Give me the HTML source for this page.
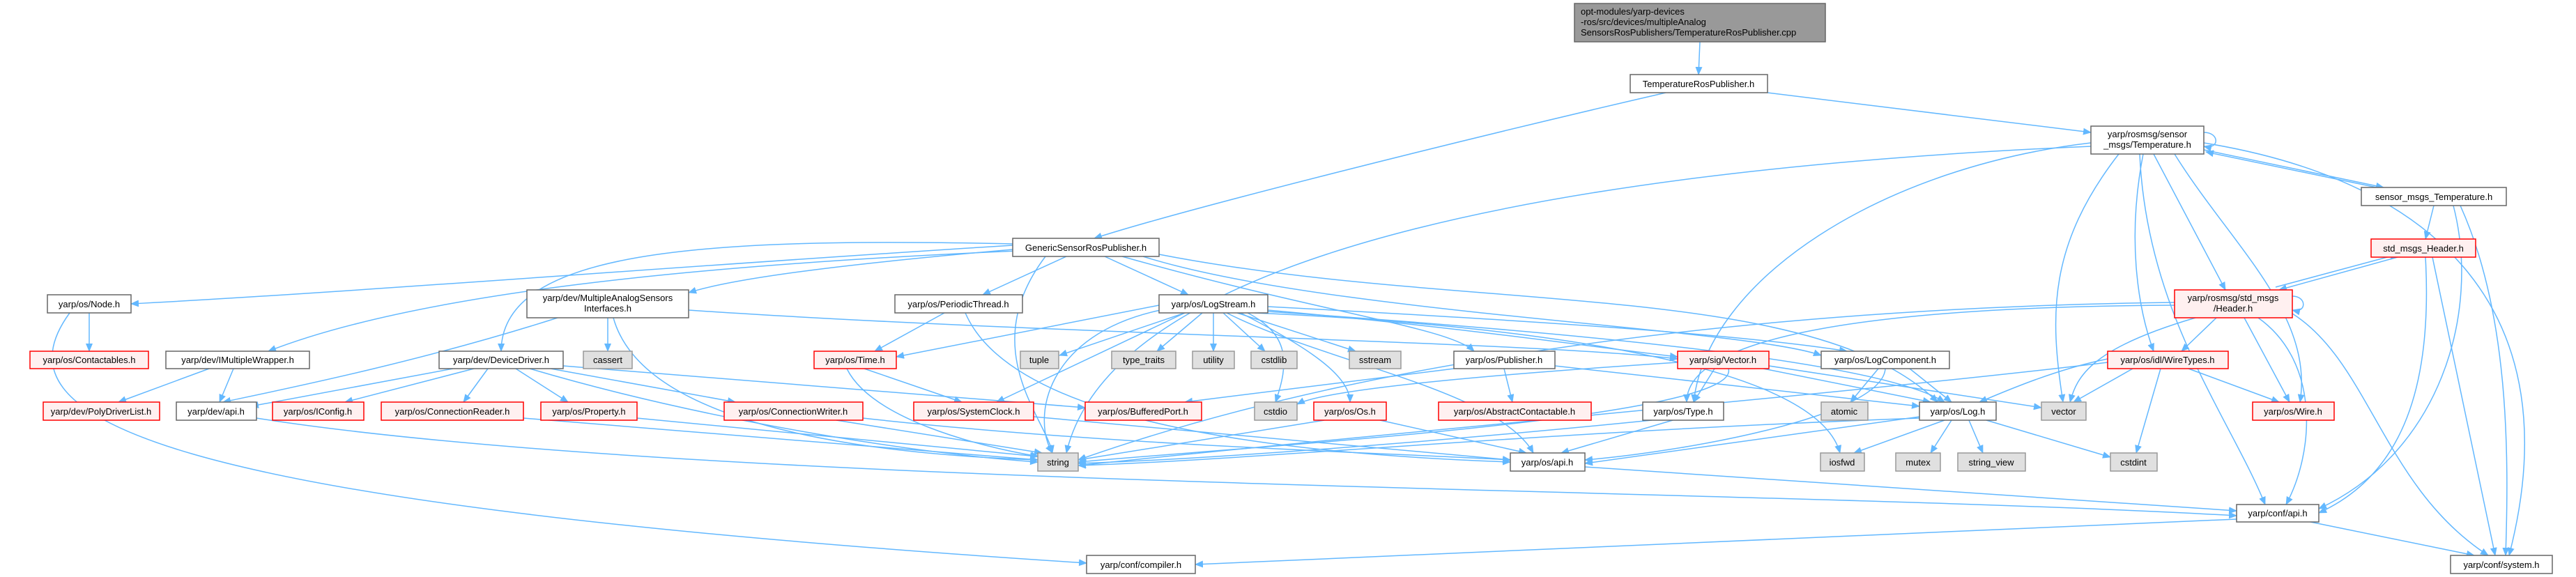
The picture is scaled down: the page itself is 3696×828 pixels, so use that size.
<!DOCTYPE html>
<html><head><meta charset="utf-8"><style>
html,body{margin:0;padding:0;background:#fff}
svg{display:block}
text{font-family:"Liberation Sans",sans-serif;font-size:13px;fill:#000}
.e{fill:none;stroke:#63b8ff;stroke-width:1.5}
.w{fill:#fff;stroke:#666;stroke-width:1.5}
.r{fill:#fff0f0;stroke:#f00;stroke-width:1.5}
.g{fill:#e0e0e0;stroke:#999;stroke-width:1.5}
</style></head><body>
<svg width="3696" height="828" viewBox="0 0 3696 828" xmlns="http://www.w3.org/2000/svg">
<defs><marker id="a" markerWidth="12" markerHeight="10" refX="11" refY="5" orient="auto" markerUnits="userSpaceOnUse"><path d="M0,0 L12,5 L0,10 z" fill="#63b8ff"/></marker></defs>
<g marker-end="url(#a)">
<path class="e" d="M2439,60 L2437,107"/>
<path class="e" d="M2390,133 C2100,200 1700,300 1570,342"/>
<path class="e" d="M2536,133 L3000,190"/>
<path class="e" d="M1453,352 C1000,380 500,420 188,436"/>
<path class="e" d="M1453,358 C1200,380 1050,400 988,420"/>
<path class="e" d="M1460,360 C1000,380 600,420 385,504"/>
<path class="e" d="M1455,350 C1000,340 720,360 719,504"/>
<path class="e" d="M1530,368 L1410,423"/>
<path class="e" d="M1585,368 L1705,423"/>
<path class="e" d="M1610,368 C1900,450 2080,470 2115,504"/>
<path class="e" d="M1640,368 C1900,450 2500,470 2613,510"/>
<path class="e" d="M1663,365 C2100,450 2600,400 2780,577"/>
<path class="e" d="M1500,368 C1400,500 1500,600 1510,650"/>
<path class="e" d="M3162,190 C3185,190 3185,215 3162,210"/>
<path class="e" d="M3162,215 L3420,269"/>
<path class="e" d="M3410,269 L3165,218"/>
<path class="e" d="M3090,221 L3193,416"/>
<path class="e" d="M3075,221 C3050,350 3070,450 3090,504"/>
<path class="e" d="M3120,221 C3200,350 3320,450 3300,577"/>
<path class="e" d="M3040,221 C2940,350 2940,450 2960,577"/>
<path class="e" d="M3070,221 C3080,450 3200,600 3250,724"/>
<path class="e" d="M3162,205 C3500,260 3690,450 3600,797"/>
<path class="e" d="M3000,205 C2700,240 2450,400 2430,577"/>
<path class="e" d="M3000,210 C2300,240 1600,350 1530,650"/>
<path class="e" d="M3492,295 L3480,343"/>
<path class="e" d="M3520,295 C3560,450 3500,650 3327,730"/>
<path class="e" d="M3530,295 C3600,450 3600,650 3595,797"/>
<path class="e" d="M3440,369 L3270,416"/>
<path class="e" d="M3265,412 L3440,365"/>
<path class="e" d="M3480,369 C3490,550 3450,680 3327,736"/>
<path class="e" d="M3490,369 L3580,797"/>
<path class="e" d="M3289,425 C3310,425 3310,450 3289,445"/>
<path class="e" d="M3180,456 L3130,504"/>
<path class="e" d="M3220,456 L3285,577"/>
<path class="e" d="M3150,456 C3000,500 2980,540 2970,577"/>
<path class="e" d="M3240,456 C3330,520 3320,650 3280,724"/>
<path class="e" d="M3289,450 C3400,520 3420,700 3570,797"/>
<path class="e" d="M3120,438 C2700,440 2420,480 2420,577"/>
<path class="e" d="M3120,434 C2600,440 2000,500 1547,660"/>
<path class="e" d="M3024,515 C2950,530 2880,560 2840,577"/>
<path class="e" d="M3060,529 L2975,577"/>
<path class="e" d="M3100,529 L3065,650"/>
<path class="e" d="M3140,529 L3270,577"/>
<path class="e" d="M3024,520 C2700,560 2000,620 1547,668"/>
<path class="e" d="M128,449 L128,504"/>
<path class="e" d="M100,449 C-10,600 200,720 1559,808"/>
<path class="e" d="M800,456 C600,520 400,560 320,577"/>
<path class="e" d="M880,456 C920,600 1200,650 1489,660"/>
<path class="e" d="M872,456 L872,504"/>
<path class="e" d="M988,445 C1500,480 2200,490 2407,515"/>
<path class="e" d="M300,529 L170,577"/>
<path class="e" d="M335,529 L315,577"/>
<path class="e" d="M650,529 L360,583"/>
<path class="e" d="M680,529 L495,577"/>
<path class="e" d="M700,529 L665,577"/>
<path class="e" d="M740,529 L815,577"/>
<path class="e" d="M790,529 L1055,577"/>
<path class="e" d="M808,525 L1557,585"/>
<path class="e" d="M760,529 C1000,600 1300,650 1489,663"/>
<path class="e" d="M1355,449 L1255,504"/>
<path class="e" d="M1385,449 C1450,600 1800,650 2167,663"/>
<path class="e" d="M1663,438 L1286,512"/>
<path class="e" d="M1700,449 L1520,510"/>
<path class="e" d="M1725,449 L1660,504"/>
<path class="e" d="M1741,449 L1741,504"/>
<path class="e" d="M1755,449 L1815,504"/>
<path class="e" d="M1775,449 L1945,504"/>
<path class="e" d="M1819,440 C2200,460 2500,480 2650,504"/>
<path class="e" d="M1819,445 C2100,470 2300,500 2407,512"/>
<path class="e" d="M1819,447 C2300,480 2700,520 2790,577"/>
<path class="e" d="M1780,449 C1880,500 1937,540 1937,577"/>
<path class="e" d="M1700,449 L1430,577"/>
<path class="e" d="M1665,445 C1500,480 1480,600 1510,650"/>
<path class="e" d="M1790,449 C1850,480 1850,520 1830,577"/>
<path class="e" d="M1800,449 C2050,460 2600,500 2640,650"/>
<path class="e" d="M1760,449 C1900,520 2150,560 2200,650"/>
<path class="e" d="M1240,529 L1380,577"/>
<path class="e" d="M1215,529 C1250,600 1400,640 1490,655"/>
<path class="e" d="M2158,529 L2170,577"/>
<path class="e" d="M2086,529 L1700,577"/>
<path class="e" d="M2231,525 L2754,583"/>
<path class="e" d="M2460,529 L2430,577"/>
<path class="e" d="M2530,529 L2770,577"/>
<path class="e" d="M2538,525 L2929,585"/>
<path class="e" d="M2480,529 C2500,600 1800,640 1547,663"/>
<path class="e" d="M2407,520 C2100,540 1900,560 1861,580"/>
<path class="e" d="M2695,529 L2655,577"/>
<path class="e" d="M2740,529 L2800,577"/>
<path class="e" d="M2705,529 C2700,600 2400,650 2274,660"/>
<path class="e" d="M2370,603 C2000,640 1700,660 1547,665"/>
<path class="e" d="M2400,603 L2240,650"/>
<path class="e" d="M2754,598 L2274,665"/>
<path class="e" d="M2790,603 L2660,650"/>
<path class="e" d="M2800,603 L2770,650"/>
<path class="e" d="M2825,603 L2845,650"/>
<path class="e" d="M2850,603 L3028,656"/>
<path class="e" d="M2754,600 C2200,620 1800,660 1547,668"/>
<path class="e" d="M1900,603 L1547,660"/>
<path class="e" d="M1980,603 L2190,650"/>
<path class="e" d="M1200,603 L1495,650"/>
<path class="e" d="M1238,600 C1600,640 2000,650 2167,660"/>
<path class="e" d="M914,600 L1489,655"/>
<path class="e" d="M751,600 L1489,660"/>
<path class="e" d="M1483,598 L2167,660"/>
<path class="e" d="M368,600 C1000,700 2500,700 3209,740"/>
<path class="e" d="M2274,670 L3209,733"/>
<path class="e" d="M3209,745 L1715,810"/>
<path class="e" d="M3315,749 L3550,797"/>
</g>
<!-- nodes -->
<rect x="2259" y="5" width="360" height="55" fill="#999" stroke="#666" stroke-width="1.5"/>
<text x="2268" y="21">opt-modules/yarp-devices</text>
<text x="2268" y="36">-ros/src/devices/multipleAnalog</text>
<text x="2268" y="51">SensorsRosPublishers/TemperatureRosPublisher.cpp</text>
<g text-anchor="middle">
<rect class="w" x="2339" y="107" width="197" height="26"/><text x="2437" y="125">TemperatureRosPublisher.h</text>
<rect class="w" x="3000" y="181" width="162" height="40"/><text x="3081" y="197">yarp/rosmsg/sensor</text><text x="3081" y="212">_msgs/Temperature.h</text>
<rect class="w" x="3388" y="269" width="208" height="26"/><text x="3492" y="287">sensor_msgs_Temperature.h</text>
<rect class="r" x="3402" y="343" width="150" height="26"/><text x="3477" y="361">std_msgs_Header.h</text>
<rect class="r" x="3120" y="416" width="169" height="40"/><text x="3204" y="432">yarp/rosmsg/std_msgs</text><text x="3204" y="447">/Header.h</text>
<rect class="w" x="1453" y="342" width="210" height="26"/><text x="1558" y="360">GenericSensorRosPublisher.h</text>
<rect class="w" x="68" y="423" width="120" height="26"/><text x="128" y="441">yarp/os/Node.h</text>
<rect class="w" x="756" y="416" width="232" height="40"/><text x="872" y="432">yarp/dev/MultipleAnalogSensors</text><text x="872" y="447">Interfaces.h</text>
<rect class="w" x="1284" y="423" width="183" height="26"/><text x="1375" y="441">yarp/os/PeriodicThread.h</text>
<rect class="w" x="1663" y="423" width="156" height="26"/><text x="1741" y="441">yarp/os/LogStream.h</text>

<rect class="r" x="43" y="504" width="170" height="25"/><text x="128" y="521">yarp/os/Contactables.h</text>
<rect class="w" x="238" y="504" width="206" height="25"/><text x="341" y="521">yarp/dev/IMultipleWrapper.h</text>
<rect class="w" x="630" y="504" width="178" height="25"/><text x="719" y="521">yarp/dev/DeviceDriver.h</text>
<rect class="g" x="837" y="504" width="70" height="25"/><text x="872" y="521">cassert</text>
<rect class="r" x="1168" y="504" width="118" height="25"/><text x="1227" y="521">yarp/os/Time.h</text>
<rect class="g" x="1464" y="504" width="55" height="25"/><text x="1491" y="521">tuple</text>
<rect class="g" x="1595" y="504" width="92" height="25"/><text x="1641" y="521">type_traits</text>
<rect class="g" x="1711" y="504" width="60" height="25"/><text x="1741" y="521">utility</text>
<rect class="g" x="1795" y="504" width="66" height="25"/><text x="1828" y="521">cstdlib</text>
<rect class="g" x="1936" y="504" width="74" height="25"/><text x="1973" y="521">sstream</text>
<rect class="w" x="2086" y="504" width="145" height="25"/><text x="2158" y="521">yarp/os/Publisher.h</text>
<rect class="r" x="2407" y="504" width="131" height="25"/><text x="2472" y="521">yarp/sig/Vector.h</text>
<rect class="w" x="2613" y="504" width="184" height="25"/><text x="2705" y="521">yarp/os/LogComponent.h</text>
<rect class="r" x="3024" y="504" width="173" height="25"/><text x="3110" y="521">yarp/os/idl/WireTypes.h</text>

<rect class="r" x="62" y="577" width="167" height="26"/><text x="145" y="595">yarp/dev/PolyDriverList.h</text>
<rect class="w" x="253" y="577" width="115" height="26"/><text x="310" y="595">yarp/dev/api.h</text>
<rect class="r" x="391" y="577" width="131" height="26"/><text x="456" y="595">yarp/os/IConfig.h</text>
<rect class="r" x="547" y="577" width="204" height="26"/><text x="649" y="595">yarp/os/ConnectionReader.h</text>
<rect class="r" x="776" y="577" width="138" height="26"/><text x="845" y="595">yarp/os/Property.h</text>
<rect class="r" x="1039" y="577" width="199" height="26"/><text x="1138" y="595">yarp/os/ConnectionWriter.h</text>
<rect class="r" x="1311" y="577" width="172" height="26"/><text x="1397" y="595">yarp/os/SystemClock.h</text>
<rect class="r" x="1557" y="577" width="167" height="26"/><text x="1640" y="595">yarp/os/BufferedPort.h</text>
<rect class="g" x="1800" y="577" width="61" height="26"/><text x="1830" y="595">cstdio</text>
<rect class="r" x="1885" y="577" width="104" height="26"/><text x="1937" y="595">yarp/os/Os.h</text>
<rect class="r" x="2064" y="577" width="219" height="26"/><text x="2173" y="595">yarp/os/AbstractContactable.h</text>
<rect class="w" x="2357" y="577" width="116" height="26"/><text x="2415" y="595">yarp/os/Type.h</text>
<rect class="g" x="2613" y="577" width="67" height="26"/><text x="2646" y="595">atomic</text>
<rect class="w" x="2754" y="577" width="110" height="26"/><text x="2809" y="595">yarp/os/Log.h</text>
<rect class="g" x="2929" y="577" width="64" height="26"/><text x="2961" y="595">vector</text>
<rect class="r" x="3232" y="577" width="117" height="26"/><text x="3290" y="595">yarp/os/Wire.h</text>

<rect class="g" x="1489" y="650" width="58" height="26"/><text x="1518" y="668">string</text>
<rect class="w" x="2167" y="650" width="107" height="26"/><text x="2220" y="668">yarp/os/api.h</text>
<rect class="g" x="2612" y="650" width="63" height="26"/><text x="2643" y="668">iosfwd</text>
<rect class="g" x="2720" y="650" width="64" height="26"/><text x="2752" y="668">mutex</text>
<rect class="g" x="2809" y="650" width="97" height="26"/><text x="2857" y="668">string_view</text>
<rect class="g" x="3028" y="650" width="67" height="26"/><text x="3061" y="668">cstdint</text>
<rect class="w" x="3209" y="724" width="118" height="25"/><text x="3268" y="741">yarp/conf/api.h</text>
<rect class="w" x="1559" y="797" width="156" height="26"/><text x="1637" y="815">yarp/conf/compiler.h</text>
<rect class="w" x="3516" y="797" width="146" height="26"/><text x="3589" y="815">yarp/conf/system.h</text>
</g>
</svg>
</body></html>
